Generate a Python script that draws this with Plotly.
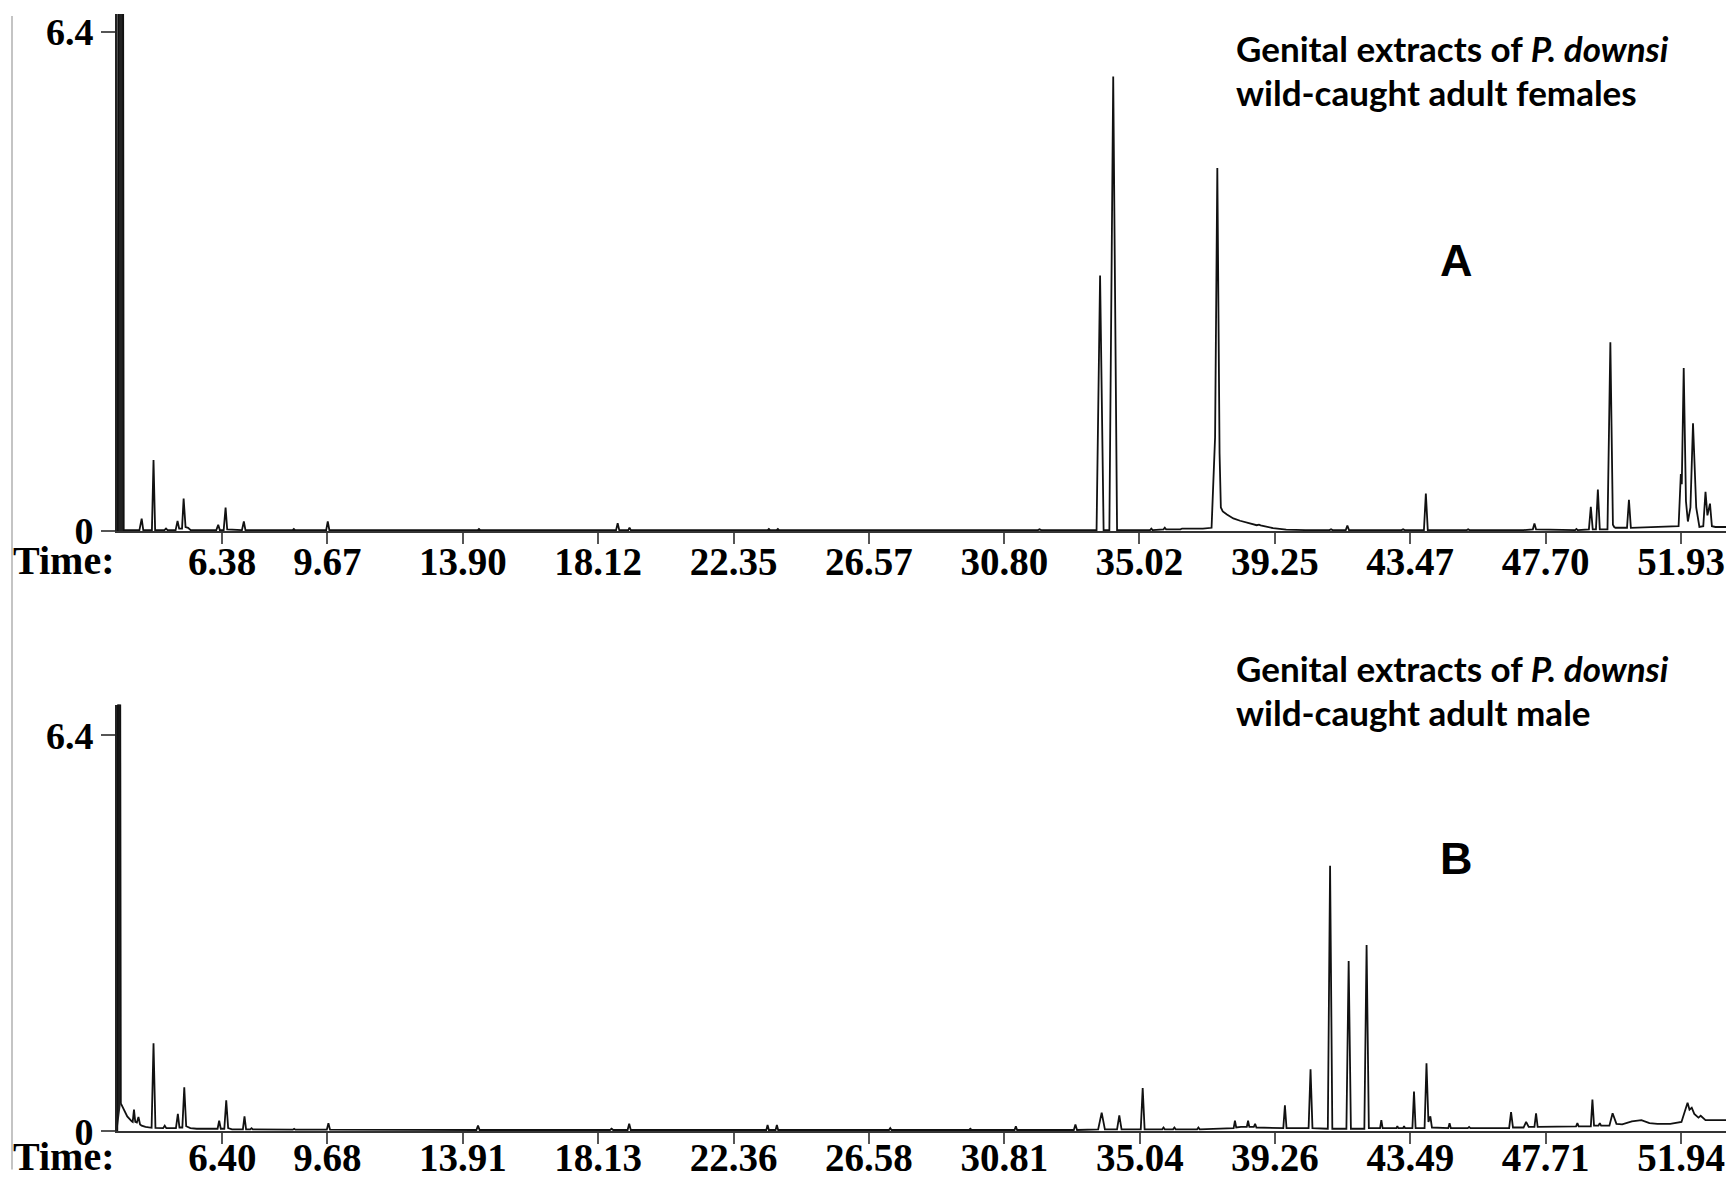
import plotly.graph_objects as go

# ---------------- data ----------------
# Panel A: wild-caught adult females (retention time [min], signal)
a_solvent_time = [3.12, 3.14, 3.29, 3.31]
a_solvent_signal = [0.0, 7.5, 7.5, 0.0]

a_time = [3.31, 3.80, 3.87, 3.92, 4.19, 4.24, 4.29, 4.58, 4.63, 4.68,
          4.93, 4.99, 5.04, 5.13, 5.18, 5.24, 5.32, 5.40,
          6.20, 6.26, 6.31, 6.43, 6.49, 6.54, 7.00, 7.06, 7.11,
          8.58, 8.62, 8.66, 9.63, 9.68, 9.73, 14.36, 14.40, 14.44,
          18.68, 18.73, 18.78, 19.06, 19.10, 19.14,
          23.41, 23.45, 23.49, 23.69, 23.73, 23.77, 27.26, 27.30, 27.34,
          31.85, 31.90, 31.95,
          33.68, 33.79, 33.90, 34.08, 34.20, 34.32,
          35.35, 35.39, 35.43, 35.77, 35.81, 35.85, 36.30, 36.35, 36.40,
          37.00, 37.27, 37.36, 37.38, 37.45, 37.52, 37.56, 37.62, 37.75,
          37.95, 38.16, 38.45, 38.68, 38.75, 38.80, 39.19, 39.60, 40.20,
          40.95, 41.00, 41.05, 41.46, 41.51, 41.56, 43.20, 43.25, 43.30,
          43.90, 43.96, 44.02, 45.24, 45.28, 45.32,
          47.00, 47.30, 47.35, 47.40, 48.62, 48.66, 48.70,
          49.05, 49.11, 49.17, 49.27, 49.33, 49.39,
          49.63, 49.72, 49.80, 49.84, 49.88, 50.24, 50.30, 50.36,
          51.00, 51.85, 51.92, 51.95, 52.01, 52.08, 52.14, 52.22, 52.30,
          52.40, 52.50, 52.62, 52.69, 52.75, 52.83, 52.89, 53.00, 53.40]
a_signal = [0.01, 0.01, 0.157, 0.01, 0.01, 0.91, 0.01, 0.01, 0.03, 0.01,
            0.01, 0.128, 0.03, 0.03, 0.416, 0.05, 0.04, 0.01,
            0.01, 0.077, 0.01, 0.01, 0.30, 0.02, 0.01, 0.12, 0.01,
            0.01, 0.025, 0.01, 0.01, 0.12, 0.01, 0.01, 0.025, 0.01,
            0.01, 0.098, 0.01, 0.01, 0.04, 0.01,
            0.01, 0.025, 0.01, 0.01, 0.025, 0.01, 0.01, 0.015, 0.01,
            0.01, 0.02, 0.01,
            0.01, 3.275, 0.01, 0.01, 5.83, 0.01,
            0.01, 0.03, 0.01, 0.02, 0.04, 0.02, 0.02, 0.03, 0.03,
            0.03, 0.04, 0.85, 1.2, 4.655, 1.0, 0.30, 0.25, 0.21,
            0.16, 0.13, 0.095, 0.073, 0.08, 0.07, 0.035, 0.015, 0.01,
            0.01, 0.02, 0.01, 0.01, 0.07, 0.01, 0.01, 0.02, 0.01,
            0.01, 0.48, 0.01, 0.01, 0.02, 0.01,
            0.01, 0.02, 0.095, 0.02, 0.01, 0.025, 0.01,
            0.02, 0.31, 0.02, 0.02, 0.53, 0.02,
            0.02, 2.42, 0.08, 0.05, 0.04, 0.04, 0.40, 0.04,
            0.05, 0.06, 0.73, 0.60, 2.09, 0.38, 0.12, 0.30, 1.38,
            0.30, 0.05, 0.06, 0.50, 0.20, 0.35, 0.06, 0.05, 0.05]

# Panel B: wild-caught adult male
b_solvent_time = [3.12, 3.14, 3.21, 3.23]
b_solvent_signal = [0.0, 7.5, 7.5, 0.45]

b_time = [3.23, 3.28, 3.43, 3.57, 3.60, 3.64, 3.68, 3.73, 3.78, 3.83, 3.88,
          4.00, 4.19, 4.25, 4.31, 4.55, 4.60, 4.65, 4.95, 5.01, 5.06, 5.15,
          5.21, 5.27, 5.40, 5.60, 6.13, 6.25, 6.30, 6.35, 6.46, 6.52, 6.58,
          6.70, 7.04, 7.09, 7.14, 7.27, 7.31, 7.35, 8.60, 8.64, 8.68,
          9.66, 9.71, 9.76, 14.33, 14.38, 14.43, 18.50, 18.55, 18.60,
          19.05, 19.10, 19.15, 23.38, 23.42, 23.46, 23.67, 23.71, 23.75,
          27.21, 27.25, 27.29, 29.71, 29.75, 29.79, 31.13, 31.17, 31.21,
          32.98, 33.03, 33.08, 33.74, 33.85, 33.95, 34.33, 34.40, 34.47,
          35.07, 35.13, 35.19, 35.74, 35.78, 35.82, 36.08, 36.12, 36.16,
          36.83, 36.87, 36.91, 37.50, 37.97, 38.01, 38.05, 38.20, 38.38,
          38.42, 38.46, 38.60, 38.64, 38.68, 39.20, 39.52, 39.57, 39.62,
          40.31, 40.37, 40.43, 40.91, 40.98, 41.05, 41.49, 41.56, 41.63,
          42.05, 42.12, 42.19, 42.54, 42.58, 42.62, 43.05, 43.08, 43.11,
          43.26, 43.29, 43.32, 43.55, 43.60, 43.65, 43.93, 43.99, 44.05,
          44.11, 44.16, 44.67, 44.71, 44.75, 45.28, 45.32, 45.36,
          46.57, 46.63, 46.69, 47.02, 47.10, 47.18, 47.36, 47.41, 47.46,
          48.66, 48.70, 48.74, 49.12, 49.17, 49.22, 49.36, 49.40, 49.44,
          49.70, 49.80, 49.92, 50.10, 50.40, 50.70, 50.95, 51.20, 51.60,
          51.95, 52.05, 52.14, 52.20, 52.27, 52.35, 52.48, 52.55, 52.70,
          53.40]
b_signal = [0.45, 0.40, 0.24, 0.16, 0.15, 0.35, 0.15, 0.14, 0.23, 0.11, 0.09,
            0.07, 0.055, 1.42, 0.055, 0.05, 0.09, 0.05, 0.05, 0.28, 0.06, 0.06,
            0.71, 0.08, 0.05, 0.04, 0.04, 0.04, 0.17, 0.04, 0.04, 0.50, 0.05,
            0.03, 0.03, 0.24, 0.03, 0.03, 0.05, 0.03, 0.025, 0.04, 0.025,
            0.025, 0.13, 0.025, 0.02, 0.09, 0.02, 0.02, 0.04, 0.02,
            0.02, 0.12, 0.02, 0.02, 0.10, 0.02, 0.02, 0.10, 0.02,
            0.02, 0.05, 0.02, 0.02, 0.04, 0.02, 0.02, 0.08, 0.02,
            0.02, 0.107, 0.02, 0.03, 0.30, 0.03, 0.03, 0.256, 0.03,
            0.03, 0.70, 0.03, 0.03, 0.06, 0.03, 0.03, 0.06, 0.03,
            0.03, 0.06, 0.03, 0.04, 0.05, 0.17, 0.06, 0.07, 0.07,
            0.17, 0.07, 0.07, 0.12, 0.06, 0.05, 0.05, 0.42, 0.05,
            0.05, 1.00, 0.05, 0.04, 4.29, 0.04, 0.04, 2.75, 0.04,
            0.04, 3.01, 0.05, 0.05, 0.18, 0.05, 0.05, 0.08, 0.05,
            0.05, 0.08, 0.05, 0.05, 0.64, 0.05, 0.05, 1.10, 0.15,
            0.24, 0.06, 0.05, 0.13, 0.05, 0.05, 0.07, 0.05,
            0.05, 0.31, 0.06, 0.06, 0.15, 0.07, 0.07, 0.29, 0.07,
            0.08, 0.13, 0.08, 0.08, 0.51, 0.09, 0.09, 0.13, 0.09,
            0.09, 0.29, 0.12, 0.11, 0.16, 0.18, 0.13, 0.12, 0.12,
            0.15, 0.30, 0.46, 0.35, 0.38, 0.28, 0.22, 0.25, 0.18,
            0.18]

a_tick_vals = [6.38, 9.67, 13.90, 18.12, 22.35, 26.57, 30.80, 35.02, 39.25, 43.47, 47.70, 51.93]
a_tick_text = ["6.38", "9.67", "13.90", "18.12", "22.35", "26.57", "30.80", "35.02", "39.25", "43.47", "47.70", "51.93"]
b_tick_vals = [6.40, 9.68, 13.91, 18.13, 22.36, 26.58, 30.81, 35.04, 39.26, 43.49, 47.71, 51.94]
b_tick_text = ["6.40", "9.68", "13.91", "18.13", "22.36", "26.58", "30.81", "35.04", "39.26", "43.49", "47.71", "51.94"]
y_tick_vals = [0, 6.4]
y_tick_text = ["0", "6.4"]

title_line1 = "Genital extracts of <i>P. downsi</i>"
a_title_line2 = "wild-caught adult females"
b_title_line2 = "wild-caught adult male"

# ---------------- figure ----------------
W, H = 1726, 1179
L = 117
# the captured page comes out slightly squeezed vertically; compensate
KY = 0.980

fig = go.Figure()

line_style = dict(color="#111111", width=1.8)
fig.add_trace(go.Scatter(x=a_solvent_time, y=a_solvent_signal, mode="lines", fill="toself",
                         fillcolor="#222222", line=line_style, xaxis="x", yaxis="y", hoverinfo="skip"))
fig.add_trace(go.Scatter(x=a_time, y=a_signal, mode="lines", line=line_style, xaxis="x", yaxis="y"))
fig.add_trace(go.Scatter(x=b_solvent_time, y=b_solvent_signal, mode="lines", fill="toself",
                         fillcolor="#222222", line=line_style, xaxis="x2", yaxis="y2", hoverinfo="skip"))
fig.add_trace(go.Scatter(x=b_time, y=b_signal, mode="lines", line=line_style, xaxis="x2", yaxis="y2"))

tick_font = dict(family="Liberation Serif", size=39, color="#000000", weight="bold")
ytick_font = dict(family="Liberation Serif", size=38, color="#000000", weight="bold")


def px_to_paper_y(py):
    return 1 - (py / KY) / H


def px_to_paper_x(px):
    return (px - L) / (W - L)


xcommon = dict(showgrid=False, zeroline=False, showline=True, linecolor="#333333", linewidth=2,
               ticks="outside", ticklen=11, tickwidth=2, tickcolor="#555555",
               tickfont=tick_font, tickmode="array")
ycommon = dict(showgrid=False, zeroline=False, showline=True, linecolor="#222222", linewidth=2,
               ticks="outside", ticklen=14, tickwidth=2, tickcolor="#555555",
               tickfont=ytick_font, tickmode="array", tickvals=y_tick_vals, ticktext=y_tick_text)

fig.update_layout(
    width=W, height=H,
    margin=dict(l=L, r=0, t=0, b=0),
    paper_bgcolor="white", plot_bgcolor="white",
    showlegend=False,
    xaxis=dict(domain=[0, 1], range=[3.10, 53.33], anchor="y", ticklabelstandoff=-16,
               tickvals=a_tick_vals, ticktext=a_tick_text, **xcommon),
    yaxis=dict(domain=[px_to_paper_y(530), px_to_paper_y(12)], range=[0, 6.632], anchor="x", **ycommon),
    xaxis2=dict(domain=[0, 1], range=[3.11, 53.34], anchor="y2", ticklabelstandoff=-20,
                tickvals=b_tick_vals, ticktext=b_tick_text, **xcommon),
    yaxis2=dict(domain=[px_to_paper_y(1131.6), px_to_paper_y(704)], range=[0, 6.897], anchor="x2", **ycommon),
)

title_font = dict(family="Lato", size=35, color="#000000", weight="bold")
letter_font = dict(family="Liberation Sans", size=45, color="#000000", weight="bold")
time_font = dict(family="Liberation Serif", size=40, color="#000000", weight="bold")

annos = [
    (1235, 46.3, title_line1, title_font, "left"),
    (1235, 90.4, a_title_line2, title_font, "left"),
    (1235, 667.5, title_line1, title_font, "left"),
    (1235, 711.5, b_title_line2, title_font, "left"),
    (1456, 259, "A", letter_font, "center"),
    (1456, 858, "B", letter_font, "center"),
    (12, 560, "Time:", time_font, "left"),
    (12, 1157, "Time:", time_font, "left"),
]
for px, py, txt, fnt, anchor in annos:
    fig.add_annotation(xref="paper", yref="paper", x=px_to_paper_x(px), y=px_to_paper_y(py),
                       text=txt, showarrow=False, font=fnt, xanchor=anchor, yanchor="middle",
                       borderpad=0)

# light grey frame line at the far left of the picture
fig.add_shape(type="line", xref="paper", yref="paper",
              x0=px_to_paper_x(12), x1=px_to_paper_x(12), y0=px_to_paper_y(1170), y1=px_to_paper_y(14),
              line=dict(color="#c4c4c4", width=2))

clip_js = ("document.querySelectorAll('.main-svg').forEach(function(s){s.style.overflow='hidden';});"
           "document.body.style.margin='0';")

fig.write_html("out.html", post_script=clip_js)
